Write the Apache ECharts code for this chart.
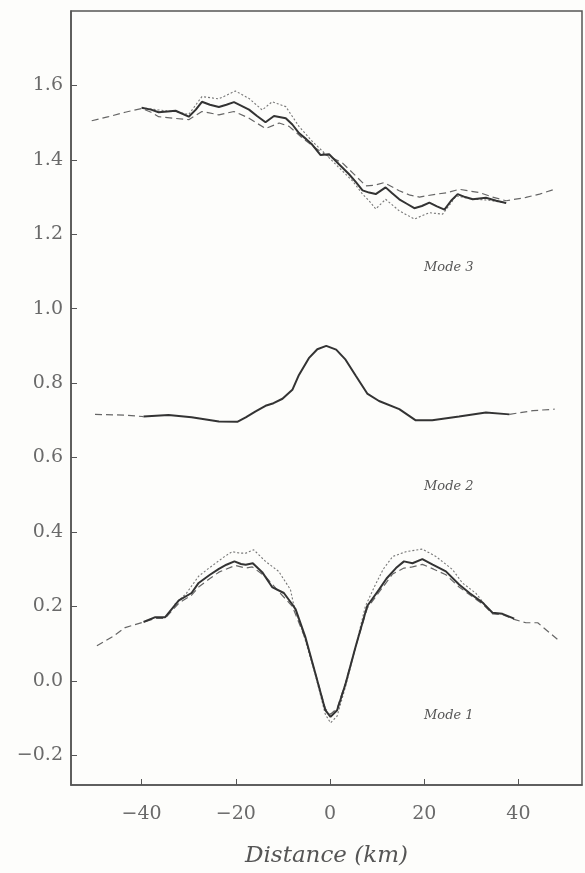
<!DOCTYPE html>
<html>
<head>
<meta charset="utf-8">
<script src="https://cdn.jsdelivr.net/npm/echarts@6/dist/echarts.min.js"></script>
<style>
html,body{margin:0;padding:0;background:#fdfdfb;}
#chart{width:585px;height:873px;}
</style>
</head>
<body>
<div id="chart"></div>
<script>
// ---- tick labels ----
const xTicks = [-40, -20, 0, 20, 40];
const yTicks = [-0.2, 0, 0.2, 0.4, 0.6, 0.8, 1.0, 1.2, 1.4, 1.6];

// ---- Mode 3 ----
const mode3Solid = [[-40,1.540],[-38,1.535],[-36.4,1.528],[-34.5,1.530],[-32.8,1.532],[-30,1.516],[-28.5,1.535],[-27.2,1.556],[-25.5,1.548],[-23.6,1.542],[-22,1.548],[-20.4,1.555],[-18.8,1.545],[-17.2,1.535],[-15.5,1.518],[-13.7,1.501],[-11.9,1.518],[-9.4,1.512],[-8,1.495],[-6.6,1.472],[-5,1.455],[-3.8,1.441],[-2.0,1.413],[-0.2,1.415],[1.9,1.388],[4.0,1.362],[5.5,1.340],[6.9,1.318],[8.3,1.312],[9.7,1.308],[11.8,1.326],[13.2,1.310],[14.7,1.294],[16.3,1.282],[17.9,1.270],[19.5,1.276],[21.1,1.285],[22.7,1.275],[24.3,1.266],[25.7,1.290],[27.1,1.308],[28.7,1.300],[30.3,1.294],[33.1,1.298],[35.3,1.290],[37.4,1.284]];
const mode3Dashed = [[-50.6,1.505],[-47,1.516],[-43.5,1.528],[-40,1.538],[-38,1.528],[-36.4,1.516],[-33.5,1.512],[-30,1.508],[-27.2,1.530],[-23.6,1.521],[-20.4,1.530],[-17.2,1.512],[-13.7,1.484],[-10.8,1.499],[-8.7,1.490],[-5.9,1.459],[-3.1,1.432],[-1.0,1.414],[0.5,1.405],[2.6,1.392],[4.8,1.365],[7.6,1.330],[9.5,1.332],[11.5,1.339],[14.7,1.317],[17,1.305],[19.0,1.300],[22.6,1.308],[25,1.312],[27.4,1.321],[31.7,1.312],[34.5,1.300],[37.4,1.290],[41.6,1.299],[44.5,1.308],[47.7,1.321]];
const mode3Dotted = [[-40,1.540],[-36.4,1.534],[-33,1.530],[-30,1.522],[-27.2,1.570],[-23.6,1.564],[-20.1,1.585],[-17.2,1.565],[-14.4,1.534],[-12.3,1.556],[-9.4,1.543],[-6.6,1.490],[-3.8,1.450],[-1.0,1.416],[1.9,1.379],[4.8,1.343],[6.9,1.308],[8.3,1.290],[9.7,1.268],[11.8,1.294],[14.7,1.263],[17.9,1.241],[21.1,1.258],[23.9,1.254],[26.8,1.303],[30.3,1.294],[33.5,1.292],[37.4,1.284]];

// ---- Mode 2 ----
const mode2Solid = [[-39.6,0.710],[-34.3,0.714],[-29.4,0.708],[-23.6,0.697],[-19.7,0.696],[-17.9,0.708],[-15.8,0.724],[-13.7,0.739],[-12,0.746],[-10.1,0.758],[-8.0,0.782],[-6.6,0.822],[-4.5,0.867],[-2.7,0.891],[-0.8,0.900],[1.3,0.890],[3.3,0.863],[5.5,0.819],[7.9,0.772],[10.4,0.752],[14.7,0.730],[18.2,0.700],[21.7,0.700],[27.4,0.710],[33.1,0.721],[38.1,0.716]];
const mode2Dashed = [[-49.9,0.716],[-43.5,0.714],[-39.6,0.710],null,[38.1,0.716],[43.1,0.726],[47.7,0.730]];

// ---- Mode 1 ----
const mode1Solid = [[-39.6,0.158],[-37.1,0.171],[-35,0.171],[-32.1,0.216],[-29.4,0.236],[-27.9,0.263],[-25.5,0.285],[-23.6,0.301],[-22,0.312],[-20.3,0.321],[-18.9,0.314],[-17.9,0.312],[-16.4,0.316],[-14.4,0.292],[-12.3,0.252],[-9.8,0.236],[-8.0,0.205],[-7.3,0.192],[-5.2,0.116],[-3.1,0.019],[-1.0,-0.079],[0.1,-0.097],[1.5,-0.079],[3.3,-0.008],[5.4,0.090],[7.9,0.201],[10.4,0.245],[12.0,0.275],[14.0,0.303],[15.7,0.321],[17.5,0.316],[19.6,0.327],[21.8,0.312],[24.6,0.294],[27.4,0.259],[29.6,0.236],[32.4,0.210],[34.5,0.183],[36.6,0.180],[39.1,0.167]];
const mode1Dashed = [[-49.5,0.094],[-46,0.120],[-43.5,0.143],[-39.6,0.158],[-37,0.168],[-35,0.168],[-32,0.210],[-29.4,0.230],[-27.9,0.252],[-25.5,0.275],[-23.6,0.292],[-20.1,0.310],[-18,0.303],[-16.5,0.306],[-13.7,0.280],[-10.9,0.240],[-8,0.2],[-5.2,0.112],[-3.1,0.02],[-1.0,-0.075],[0.1,-0.09],[1.5,-0.074],[3.3,-0.005],[5.4,0.09],[7.9,0.195],[10.4,0.238],[13.3,0.287],[15.7,0.303],[17.5,0.306],[19.6,0.313],[22,0.300],[24.6,0.285],[27.4,0.252],[29.6,0.232],[32.4,0.206],[34.5,0.180],[36.6,0.178],[39.1,0.165],[41.6,0.156],[44.1,0.156],[48.7,0.107]];
const mode1Dotted = [[-33,0.205],[-30.5,0.235],[-27.9,0.281],[-26,0.300],[-24.3,0.316],[-22.5,0.333],[-20.8,0.347],[-19,0.343],[-17.9,0.343],[-16.2,0.352],[-13.7,0.321],[-10.9,0.294],[-8.4,0.245],[-7.8,0.209],[-5.5,0.12],[-3.1,0.015],[-1.0,-0.09],[0.1,-0.113],[1.5,-0.095],[3.3,-0.015],[5.4,0.09],[7.5,0.2],[9.5,0.255],[11.3,0.300],[13.3,0.334],[16.1,0.347],[19.6,0.354],[22.5,0.334],[26.0,0.299],[28.1,0.263],[31,0.235],[33.5,0.195]];

const modeLabels = ['Mode 3', 'Mode 2', 'Mode 1'];
const axisTitle = 'Distance (km)';

const tickFont = {fontFamily: 'DejaVu Serif', fontSize: 19, color: '#6a6a6a'};

function solid(d){return {type:'line', data:d, showSymbol:false, symbol:'none', connectNulls:false, lineStyle:{color:'#333', width:2}, z:5, silent:true};}
function dashed(d){return {type:'line', data:d, showSymbol:false, symbol:'none', connectNulls:false, lineStyle:{color:'#666', width:1.2, type:[7,4]}, z:3, silent:true};}
function dotted(d){return {type:'line', data:d, showSymbol:false, symbol:'none', connectNulls:false, lineStyle:{color:'#777', width:1.1, type:[2,2]}, z:2, silent:true};}

const chart = echarts.init(document.getElementById('chart'), null, {renderer:'canvas'});
chart.setOption({
  backgroundColor: '#fdfdfb',
  animation: false,
  grid: {left: 71, right: 3, top: 11, bottom: 81, show: true, borderColor: '#555', borderWidth: 1.5, backgroundColor: 'transparent'},
  xAxis: {
    type: 'value', min: -55, max: 53.5,
    axisLine: {show: true, onZero: false, lineStyle: {color: '#555', width: 1.5}},
    axisTick: {show: true, inside: true, length: 6, customValues: xTicks, lineStyle: {color: '#555'}},
    axisLabel: {customValues: xTicks, margin: 20, ...tickFont, formatter: v => (v < 0 ? '\u2212' + Math.abs(v) : String(v))},
    splitLine: {show: false},
    name: axisTitle, nameLocation: 'middle', nameGap: 60,
    nameTextStyle: {fontFamily: 'DejaVu Serif', fontStyle: 'italic', fontSize: 23, color: '#555'}
  },
  yAxis: {
    type: 'value', min: -0.28, max: 1.8,
    axisLine: {show: true, onZero: false, lineStyle: {color: '#555', width: 1.5}},
    axisTick: {show: true, inside: true, length: 6, customValues: yTicks, lineStyle: {color: '#555'}},
    axisLabel: {customValues: yTicks, margin: 8, ...tickFont, formatter: v => (v < 0 ? '\u2212' + Math.abs(v).toFixed(1) : v.toFixed(1))},
    splitLine: {show: false}
  },
  graphic: [
    {type:'text', left: 424, top: 261, style:{text: modeLabels[0], font:'italic 13px "DejaVu Serif"', fill:'#555'}},
    {type:'text', left: 424, top: 480, style:{text: modeLabels[1], font:'italic 13px "DejaVu Serif"', fill:'#555'}},
    {type:'text', left: 424, top: 709, style:{text: modeLabels[2], font:'italic 13px "DejaVu Serif"', fill:'#555'}}
  ],
  series: [
    dotted(mode3Dotted), dashed(mode3Dashed), solid(mode3Solid),
    dashed(mode2Dashed), solid(mode2Solid),
    dotted(mode1Dotted), dashed(mode1Dashed), solid(mode1Solid)
  ]
});
</script>
</body>
</html>
